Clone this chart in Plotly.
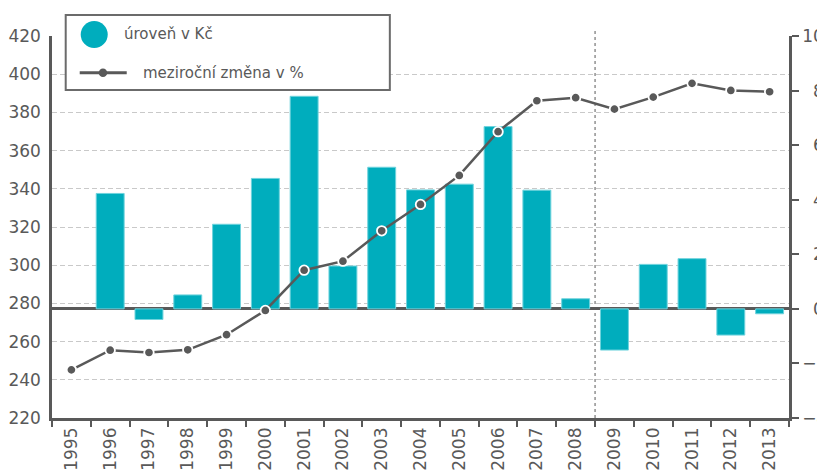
import plotly.graph_objects as go

years = [str(y) for y in range(1995, 2014)]
# bars: year-on-year change (right axis, %)
bar_values = [None, 4.23, -0.39, 0.51, 3.10, 4.78, 7.79, 1.57, 5.19, 4.36, 4.57, 6.68, 4.35,
              0.37, -1.51, 1.63, 1.84, -0.96, -0.18]
# line: level (left axis, Kč)
line_values = [245.2, 255.5, 254.3, 255.7, 263.6, 276.3, 297.4, 302.1, 318.0, 331.8, 347.0,
               369.9, 386.1, 387.7, 381.7, 388.0, 395.2, 391.5, 390.8]
left_ticks = [220, 240, 260, 280, 300, 320, 340, 360, 380, 400, 420]
right_ticks = [-4, -2, 0, 2, 4, 6, 8, 10]
right_tick_text = ["\u22124", "\u22122", "\u20070", "\u20072", "\u20074", "\u20076", "\u20078", "10"]
legend_labels = ["úroveň v Kč", "meziroční změna v %"]

TEAL = "#00adbd"
GREY = "#595959"
FONT = "DejaVu Sans"

OFF = 8  # page body margin
W, H = 825 - OFF, 474 - OFF
L = 52.3 - OFF
T = 36 - OFF
R = W - (789 - OFF)
B = H - (417.7 - OFF)
pw, ph = W - L - R, H - T - B


def px(x):
    return (x - OFF - L) / pw


def py(y):
    return (H - B - (y - OFF)) / ph


fig = go.Figure()
fig.add_trace(go.Bar(x=years, y=bar_values, yaxis="y", marker=dict(color=TEAL, line=dict(color="#6fd3dd", width=1)),
                     showlegend=False))
fig.add_trace(go.Scatter(x=years, y=line_values, yaxis="y2", mode="lines+markers",
                         line=dict(color=GREY, width=2.5),
                         marker=dict(size=9.5, color=GREY, line=dict(color="white", width=1.8)),
                         showlegend=False))

shapes = [
    # vertical dashed separator between 2008 and 2009
    dict(type="line", xref="x", yref="paper", x0=13.5, x1=13.5, y0=0, y1=py(29),
         line=dict(color=GREY, width=1, dash="3px,3px"), layer="above"),
    # legend box
    dict(type="rect", xref="paper", yref="paper", x0=px(66), x1=px(390), y0=py(15), y1=py(90),
         fillcolor="white", line=dict(color="#6b6b6b", width=2), layer="above"),
    dict(type="circle", xref="paper", yref="paper", x0=px(81), x1=px(108), y0=py(21), y1=py(48),
         fillcolor=TEAL, line=dict(color=TEAL, width=0), layer="above"),
    dict(type="line", xref="paper", yref="paper", x0=px(80), x1=px(127), y0=py(72.7), y1=py(72.7),
         line=dict(color=GREY, width=3), layer="above"),
    dict(type="circle", xref="paper", yref="paper", x0=px(99), x1=px(107.5), y0=py(68.5), y1=py(77),
         fillcolor=GREY, line=dict(color=GREY, width=0), layer="above"),
]

annotations = [
    dict(text=legend_labels[0], xref="paper", yref="paper", x=px(122), y=py(34.5), xanchor="left",
         yanchor="middle", showarrow=False, font=dict(family=FONT, size=15, color=GREY)),
    dict(text=legend_labels[1], xref="paper", yref="paper", x=px(141), y=py(72.5), xanchor="left",
         yanchor="middle", showarrow=False, font=dict(family=FONT, size=15, color=GREY)),
]

fig.update_layout(
    width=W, height=H,
    margin=dict(l=L, r=R, t=T, b=B, pad=0, autoexpand=False),
    paper_bgcolor="white", plot_bgcolor="white",
    bargap=0.28,
    font=dict(family=FONT, size=17, color=GREY),
    xaxis=dict(type="category", range=[-0.5, len(years) - 0.5], showline=True, linecolor=GREY,
               linewidth=2.5, ticks="outside",
               tickson="boundaries", ticklen=6, tickwidth=2, tickcolor=GREY, tickangle=-90,
               showgrid=False, automargin=False, tickfont=dict(family=FONT, size=17, color=GREY)),
    yaxis=dict(side="right", range=[-4, 10], tickvals=right_ticks, ticktext=right_tick_text,
               showgrid=False, zeroline=True, zerolinecolor=GREY, zerolinewidth=2.5,
               showline=True, linecolor=GREY, linewidth=2.5, ticks="outside", ticklen=7,
               tickwidth=2, tickcolor=GREY, automargin=False,
               tickfont=dict(family=FONT, size=17, color=GREY)),
    yaxis2=dict(side="left", overlaying="y", range=[220, 420], tickvals=left_ticks,
                showgrid=True, gridcolor="#c9c9c9", gridwidth=1, griddash="5px,3px",
                zeroline=False, showline=True, linecolor=GREY, linewidth=2.5, ticks="",
                ticklabelstandoff=5, automargin=False,
                tickfont=dict(family=FONT, size=17, color=GREY)),
    shapes=shapes,
    annotations=annotations,
)

fig.write_html("out.html")
